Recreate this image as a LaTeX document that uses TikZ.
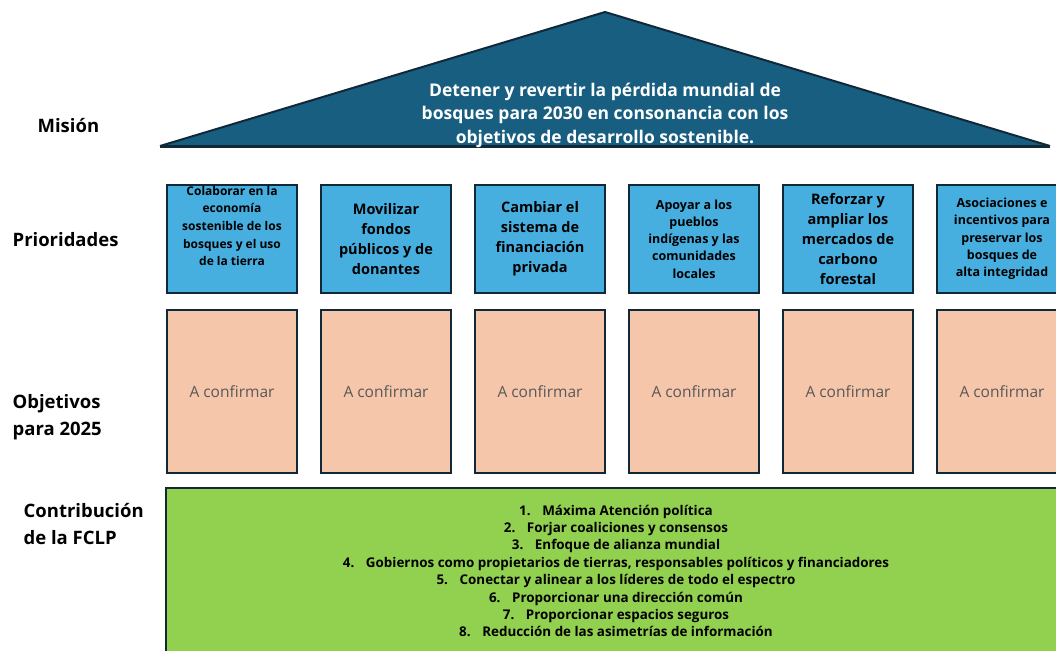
\documentclass[tikz,border=0pt]{standalone}
\usepackage{fontspec}
\setmainfont{Open Sans}
\usepackage{tikz}
\usetikzlibrary{arrows}

\definecolor{roof}{RGB}{24,94,128}
\definecolor{edge}{RGB}{16,40,56}
\definecolor{prio}{RGB}{71,174,224}
\definecolor{peach}{RGB}{245,198,170}
\definecolor{leaf}{RGB}{146,208,80}
\definecolor{greytxt}{RGB}{89,89,89}

\begin{document}
\begin{tikzpicture}[x=1pt, y=-1pt, semithick]
    \tikzstyle{lab}=[anchor=west, align=left, font=\fontsize{18.5}{27.5}\selectfont\bfseries]
    \tikzstyle{pbox}=[rectangle, draw=edge, line width=2.5pt, fill=prio, minimum width=130pt, minimum height=108pt, inner sep=0pt, align=center]
    \tikzstyle{obox}=[rectangle, draw=edge, line width=2.5pt, fill=peach, minimum width=130pt, minimum height=163pt, text=greytxt, font=\fontsize{15.5}{18}\selectfont]
    \tikzstyle{big}=[font=\fontsize{14.5}{20}\selectfont\bfseries]
    \tikzstyle{small}=[font=\fontsize{12.5}{17.3}\selectfont\bfseries]

    \useasboundingbox (0,0) rectangle (1056,650);
    \clip (0,0) rectangle (1056,650);

    % roof
    \fill[roof] (160,146) -- (605,12) -- (1050,146) -- cycle;
    \draw[edge, line width=2pt, line join=round] (160,146) -- (605,12) -- (1050,146);
    \draw[edge, line width=3pt] (160,146) -- (1050,146);
    \node[text=white, align=center, font=\fontsize{17.5}{23.5}\selectfont\bfseries] (mission) at (605,115)
        {Detener y revertir la pérdida mundial de\\bosques para 2030 en consonancia con los\\objetivos de desarrollo sostenible.};

    % row labels
    \node[lab] (lmis) at (34,126) {Misión};
    \node[lab] (lprio) at (9,240) {Prioridades};
    \node[lab] (lobj) at (9,417) {Objetivos\\para 2025};
    \node[lab] (lcon) at (20,524) {Contribución\\de la FCLP};

    % priorities
    \node[pbox] (p1) at (232,239) {};
    \node[small, font=\fontsize{12}{17.7}\selectfont\bfseries, align=center] (t1) at (232,226)
        {Colaborar en la\\economía\\sostenible de los\\bosques y el uso\\de la tierra};
    \node[pbox, big] (p2) at (386,239) {Movilizar\\fondos\\públicos y de\\donantes};
    \node[pbox, big] (p3) at (540,239) {Cambiar el\\sistema de\\financiación\\privada};
    \node[pbox, small] (p4) at (694,239) {Apoyar a los\\pueblos\\indígenas y las\\comunidades\\locales};
    \node[pbox, big] (p5) at (848,239) {Reforzar y\\ampliar los\\mercados de\\carbono\\forestal};
    \node[pbox, small] (p6) at (1002,239) {Asociaciones e\\incentivos para\\preservar los\\bosques de\\alta integridad};

    % objectives
    \node[obox] (o1) at (232,391.5) {A confirmar};
    \node[obox] (o2) at (386,391.5) {A confirmar};
    \node[obox] (o3) at (540,391.5) {A confirmar};
    \node[obox] (o4) at (694,391.5) {A confirmar};
    \node[obox] (o5) at (848,391.5) {A confirmar};
    \node[obox] (o6) at (1002,391.5) {A confirmar};

    % contribution
    \node[rectangle, draw=edge, line width=2.5pt, fill=leaf, minimum width=900pt, minimum height=172pt] (fclp) at (616,574) {};
    \node[align=center, font=\fontsize{13.4}{17.4}\selectfont\bfseries] (list) at (616,571)
        {1.~~ Máxima Atención política\\
         2.~~ Forjar coaliciones y consensos\\
         3.~~ Enfoque de alianza mundial\\
         4.~~ Gobiernos como propietarios de tierras, responsables políticos y financiadores\\
         5.~~ Conectar y alinear a los líderes de todo el espectro\\
         6.~~ Proporcionar una dirección común\\
         7.~~ Proporcionar espacios seguros\\
         8.~~ Reducción de las asimetrías de información};

\end{tikzpicture}
\end{document}
